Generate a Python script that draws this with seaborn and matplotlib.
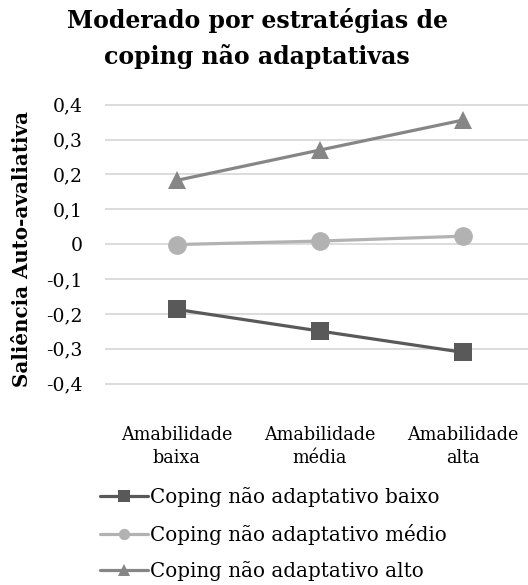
import matplotlib
matplotlib.use("Agg")
import matplotlib.pyplot as plt
import seaborn as sns
import pandas as pd

# Data
categorias = ["Amabilidade\nbaixa", "Amabilidade\nmédia", "Amabilidade\nalta"]
series = ["Coping não adaptativo baixo", "Coping não adaptativo médio", "Coping não adaptativo alto"]
baixo = [-0.187, -0.249, -0.310]
medio = [-0.001, 0.009, 0.023]
alto = [0.183, 0.270, 0.356]
yticks = [0.4, 0.3, 0.2, 0.1, 0, -0.1, -0.2, -0.3, -0.4]
ytick_labels = ["0,4", "0,3", "0,2", "0,1", "0", "-0,1", "-0,2", "-0,3", "-0,4"]

df = pd.DataFrame({
    "cat": categorias * 3,
    "val": baixo + medio + alto,
    "serie": [series[0]] * 3 + [series[1]] * 3 + [series[2]] * 3,
})

sns.set_style("white")
plt.rcParams["font.family"] = ["DejaVu Serif"]
plt.rcParams["text.color"] = "black"
plt.rcParams["xtick.color"] = "black"
plt.rcParams["ytick.color"] = "black"

fig = plt.figure(figsize=(5.28, 5.85), dpi=100)
ax = fig.add_axes([105 / 528, 0.3364, 1 - 105 / 528, 0.4923])

cores = {series[0]: "#595959", series[1]: "#b2b2b2", series[2]: "#868686"}
marcadores = {series[0]: "s", series[1]: "o", series[2]: "^"}

sns.lineplot(
    data=df, x="cat", y="val", hue="serie", style="serie",
    palette=cores, markers=marcadores, dashes=False,
    linewidth=2.3, markersize=13.5, markeredgewidth=0, ax=ax,
    legend=True, zorder=3
)

ax.set_xlim(-0.5, 2.455)
ax.set_ylim(-0.413, 0.413)
ax.set_yticks(yticks)
ax.set_yticklabels(ytick_labels)
ax.grid(axis="y", color="#d9d9d9", linewidth=1.3)
ax.grid(axis="x", visible=False)
for s in ax.spines.values():
    s.set_visible(False)
ax.tick_params(axis="y", length=0, pad=16, labelsize=13.5)
ax.tick_params(axis="x", length=0, pad=27, labelsize=12.7)
for t in ax.get_xticklabels():
    t.set_linespacing(1.4)
ax.set_xlabel("")
ax.set_ylabel("")

fig.text(0.487, 0.934, "Moderado por estratégias de\ncoping não adaptativas",
         ha="center", va="center", fontsize=17, fontweight="bold", linespacing=1.55)
fig.text(0.042, 0.574, "Saliência Auto-avaliativa", rotation=90,
         ha="center", va="center", fontsize=14.3, fontweight="bold")

leg = ax.legend(loc="upper left", bbox_to_anchor=(100 / 528, 1 - 487 / 585),
                bbox_transform=fig.transFigure, frameon=False, fontsize=14.3,
                handlelength=2.4, handletextpad=0.1, labelspacing=0.84,
                markerscale=0.6, borderpad=0, borderaxespad=0)

fig.savefig("out.png", dpi=100)
